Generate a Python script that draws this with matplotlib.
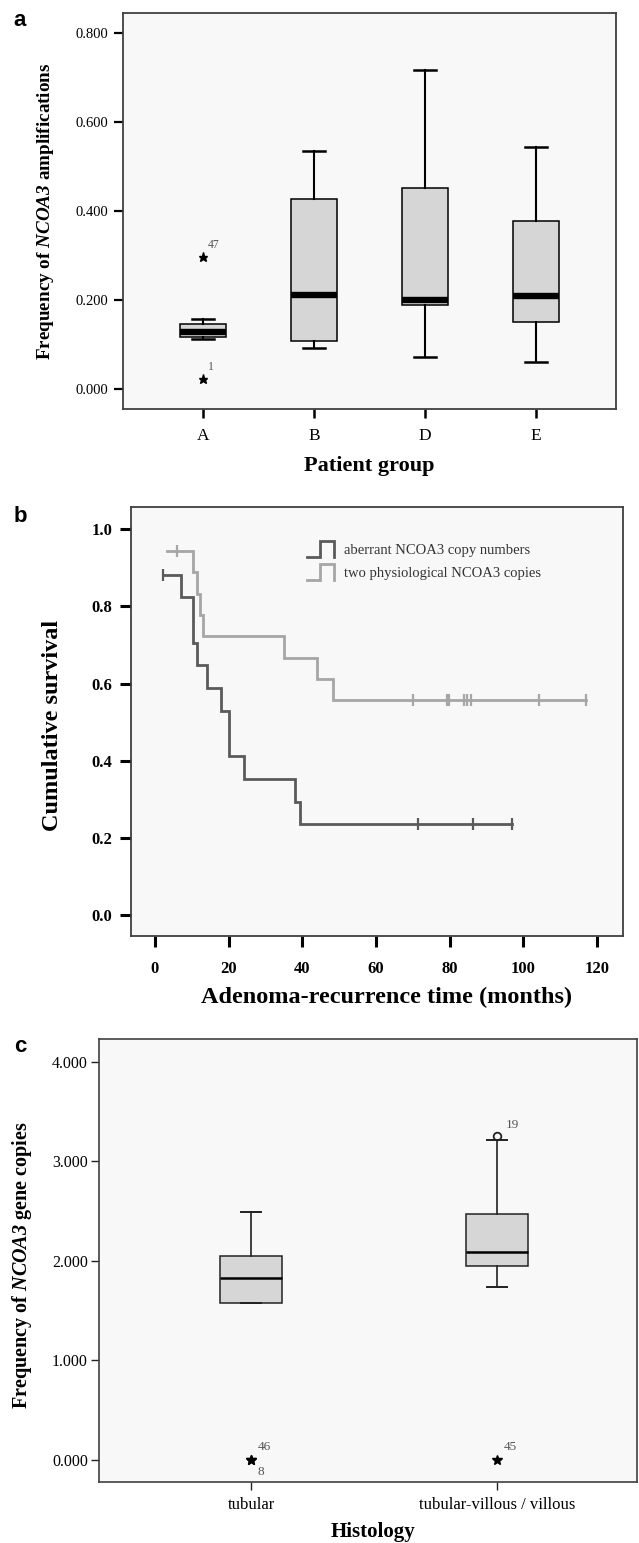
import matplotlib
matplotlib.use("Agg")
import matplotlib.pyplot as plt
from matplotlib.legend_handler import HandlerBase
from matplotlib.lines import Line2D

plt.rcParams.update({
    "font.family": ["Liberation Serif", "DejaVu Serif"],
    "mathtext.fontset": "custom",
    "mathtext.rm": "Liberation Serif",
    "mathtext.it": "Liberation Serif:italic",
    "mathtext.bf": "Liberation Serif:bold",
    "mathtext.bfit": "Liberation Serif:italic:bold",
})

# ---- panel a: NCOA3 amplification frequency by patient group ----
GROUPS = ["A", "B", "D", "E"]
A_WHISLO = [0.112, 0.092, 0.071, 0.061]
A_Q1 = [0.118, 0.109, 0.188, 0.151]
A_MED = [0.128, 0.211, 0.200, 0.209]
A_Q3 = [0.147, 0.428, 0.452, 0.378]
A_WHISHI = [0.158, 0.535, 0.718, 0.544]
A_EXT_GROUP = [0, 0]
A_EXT_VALUE = [0.297, 0.022]
A_EXT_ID = ["47", "1"]
A_YTICKS = [0.0, 0.2, 0.4, 0.6, 0.8]

# ---- panel b: Kaplan-Meier adenoma recurrence ----
ABER_T = [2.2, 7.0, 10.3, 11.3, 14.0, 17.9, 20.1, 24.2, 38.0, 39.3]
ABER_S = [0.882, 0.824, 0.706, 0.647, 0.588, 0.529, 0.412, 0.353, 0.294, 0.235]
ABER_END = 97.0
ABER_CENS = [2.2, 71.3, 86.2, 97.0]
PHYS_T = [3.2, 10.2, 11.3, 12.1, 12.9, 34.9, 44.0, 48.2]
PHYS_S = [0.944, 0.889, 0.833, 0.778, 0.722, 0.667, 0.611, 0.556]
PHYS_END = 117.0
PHYS_CENS = [5.9, 69.9, 79.3, 79.9, 84.0, 84.8, 85.9, 104.3, 117.0]
KM_LABELS = ["aberrant NCOA3 copy numbers", "two physiological NCOA3 copies"]
B_XTICKS = [0, 20, 40, 60, 80, 100, 120]
B_YTICKS = [0.0, 0.2, 0.4, 0.6, 0.8, 1.0]

# ---- panel c: NCOA3 gene copies by histology ----
HISTOLOGY = ["tubular", "tubular-villous / villous"]
C_WHISLO = [1.579, 1.739]
C_Q1 = [1.579, 1.946]
C_MED = [1.826, 2.094]
C_Q3 = [2.047, 2.468]
C_WHISHI = [2.492, 3.211]
C_EXT_GROUP = [0, 0, 1]
C_EXT_VALUE = [0.0, 0.0, 0.0]
C_EXT_ID = ["46", "8", "45"]
C_OUT_GROUP = [1]
C_OUT_VALUE = [3.251]
C_OUT_ID = ["19"]
C_YTICKS = [0.0, 1.0, 2.0, 3.0, 4.0]

FACE = "#f8f8f8"
BOXFILL = "#d6d6d6"
FRAME = "#404040"
NUMCOL = "#555555"
DARK = "#5a5a5a"
LIGHT = "#a6a6a6"


class StepIcon(HandlerBase):
    """Little step glyph used by SPSS survival legends."""

    def create_artists(self, legend, orig_handle, xdescent, ydescent,
                       width, height, fontsize, trans):
        x0, y0 = -xdescent, -ydescent
        xs = [x0, x0 + 0.5 * width, x0 + 0.5 * width, x0 + width, x0 + width]
        ys = [y0, y0, y0 + height, y0 + height, y0]
        ln = Line2D(xs, ys, color=orig_handle.get_color(),
                    lw=orig_handle.get_linewidth(), solid_joinstyle="miter")
        ln.set_transform(trans)
        return [ln]


def style_frame(ax, lw=1.3):
    ax.set_facecolor(FACE)
    for sp in ax.spines.values():
        sp.set_color(FRAME)
        sp.set_linewidth(lw)


def stats_list(lo, q1, med, q3, hi):
    return [
        {"whislo": a, "q1": b, "med": c, "q3": d, "whishi": e, "fliers": []}
        for a, b, c, d, e in zip(lo, q1, med, q3, hi)
    ]


fig = plt.figure(figsize=(6.39, 15.43), dpi=100, facecolor="white")

# ================= panel a =================
ax_a = fig.add_axes([0.1925, 0.7349, 0.7715, 0.2566])
style_frame(ax_a)
pos_a = list(range(1, len(GROUPS) + 1))
ax_a.bxp(
    stats_list(A_WHISLO, A_Q1, A_MED, A_Q3, A_WHISHI),
    positions=pos_a, widths=0.41, capwidths=0.2, patch_artist=True,
    showfliers=False,
    boxprops=dict(facecolor=BOXFILL, edgecolor="black", linewidth=1.1),
    medianprops=dict(color="black", linewidth=4.6, solid_capstyle="butt"),
    whiskerprops=dict(color="black", linewidth=1.5),
    capprops=dict(color="black", linewidth=1.8),
)
for g, v, lab in zip(A_EXT_GROUP, A_EXT_VALUE, A_EXT_ID):
    ax_a.plot(pos_a[g], v, marker="*", ms=6.5, color="black", ls="none")
    ax_a.annotate(lab, (pos_a[g], v), xytext=(3.5, 4.5), textcoords="offset points",
                  fontsize=8.5, color=NUMCOL, ha="left", va="bottom")
ax_a.set_xlim(0.279, 4.72)
ax_a.set_ylim(-0.045, 0.845)
ax_a.set_yticks(A_YTICKS)
ax_a.set_yticklabels([f"{v:.3f}" for v in A_YTICKS], fontsize=10.5)
ax_a.set_xticks(pos_a)
ax_a.set_xticklabels(GROUPS, fontsize=12.5)
ax_a.tick_params(axis="y", length=6.5, width=1.6, pad=4, color="black")
ax_a.tick_params(axis="x", length=6.5, width=1.8, pad=7, color="black")
ax_a.set_ylabel(r"Frequency of $\mathbfit{NCOA3}$ amplifications",
                fontsize=13.8, fontweight="bold")
ax_a.yaxis.set_label_coords(-0.158, 0.5)
ax_a.set_xlabel("Patient group", fontsize=16, fontweight="bold")
ax_a.xaxis.set_label_coords(0.499, -0.144)
ax_a.xaxis.label.set_va("center")
ax_a.yaxis.label.set_va("center")

# ================= panel b =================
ax_b = fig.add_axes([0.2045, 0.3936, 0.7709, 0.2776])
style_frame(ax_b)
km_handles = []
for t, s, end, cens, col, lab in [
    (ABER_T, ABER_S, ABER_END, ABER_CENS, DARK, KM_LABELS[0]),
    (PHYS_T, PHYS_S, PHYS_END, PHYS_CENS, LIGHT, KM_LABELS[1]),
]:
    xs = list(t) + [end]
    ys = list(s) + [s[-1]]
    (ln,) = ax_b.step(xs, ys, where="post", color=col, lw=2.0, label=lab,
                      solid_joinstyle="miter")
    km_handles.append(ln)
    cy = []
    for c in cens:
        val = s[0]
        for tt, ss in zip(t, s):
            if tt <= c:
                val = ss
        cy.append(val)
    ax_b.plot(cens, cy, ls="none", marker="|", ms=9, mew=1.6, color=col)

ax_b.set_xlim(-6.6, 127.1)
ax_b.set_ylim(-0.054, 1.057)
ax_b.set_xticks(B_XTICKS)
ax_b.set_xticklabels([str(v) for v in B_XTICKS], fontsize=12, fontweight="bold")
ax_b.set_yticks(B_YTICKS)
ax_b.set_yticklabels([f"{v:.1f}" for v in B_YTICKS], fontsize=12, fontweight="bold")
ax_b.tick_params(axis="y", length=8, width=2.2, pad=5, color="black")
ax_b.tick_params(axis="x", length=8, width=2.2, pad=10, color="black")
ax_b.set_ylabel("Cumulative survival", fontsize=17.5, fontweight="bold")
ax_b.yaxis.set_label_coords(-0.158, 0.49)
ax_b.set_xlabel("Adenoma-recurrence time (months)", fontsize=17.5, fontweight="bold")
ax_b.xaxis.set_label_coords(0.52, -0.145)
ax_b.xaxis.label.set_va("center")
ax_b.yaxis.label.set_va("center")
leg = ax_b.legend(
    handles=km_handles, loc="upper left", bbox_to_anchor=(0.357, 0.922),
    frameon=False, fontsize=10.5, borderpad=0, borderaxespad=0,
    handlelength=1.9, handleheight=1.35, handletextpad=0.7, labelspacing=0.45,
    handler_map={h: StepIcon() for h in km_handles},
)
for txt in leg.get_texts():
    txt.set_color("#333333")

# ================= panel c =================
ax_c = fig.add_axes([0.1549, 0.0395, 0.8420, 0.2869])
style_frame(ax_c, lw=1.2)
pos_c = list(range(1, len(HISTOLOGY) + 1))
ax_c.bxp(
    stats_list(C_WHISLO, C_Q1, C_MED, C_Q3, C_WHISHI),
    positions=pos_c, widths=0.25, capwidths=0.085, patch_artist=True,
    showfliers=False,
    boxprops=dict(facecolor=BOXFILL, edgecolor="#222222", linewidth=1.1),
    medianprops=dict(color="black", linewidth=1.8, solid_capstyle="butt"),
    whiskerprops=dict(color="#222222", linewidth=1.2),
    capprops=dict(color="#222222", linewidth=1.4),
)
seen = {}
for g, v, lab in zip(C_EXT_GROUP, C_EXT_VALUE, C_EXT_ID):
    key = (g, v)
    below = key in seen
    seen[key] = True
    ax_c.plot(pos_c[g], v, marker="*", ms=7, color="black", ls="none")
    off = (5, -4) if below else (5, 5)
    ax_c.annotate(lab, (pos_c[g], v), xytext=off, textcoords="offset points",
                  fontsize=9.5, color=NUMCOL, ha="left",
                  va="top" if below else "bottom")
for g, v, lab in zip(C_OUT_GROUP, C_OUT_VALUE, C_OUT_ID):
    ax_c.plot(pos_c[g], v, marker="o", ms=5.5, mfc="none", mec="#222222",
              mew=1.3, ls="none")
    ax_c.annotate(lab, (pos_c[g], v), xytext=(6, 4), textcoords="offset points",
                  fontsize=9.5, color=NUMCOL, ha="left", va="bottom")
ax_c.set_xlim(0.382, 2.569)
ax_c.set_ylim(-0.221, 4.225)
ax_c.set_yticks(C_YTICKS)
ax_c.set_yticklabels([f"{v:.3f}" for v in C_YTICKS], fontsize=11.5)
ax_c.set_xticks(pos_c)
ax_c.set_xticklabels(HISTOLOGY, fontsize=12)
ax_c.tick_params(axis="y", length=6, width=1.0, pad=2, color="#222222")
ax_c.tick_params(axis="x", length=5.5, width=1.0, pad=5, color="#222222")
ax_c.set_ylabel(r"Frequency of $\mathbfit{NCOA3}$ gene copies",
                fontsize=14.5, fontweight="bold")
ax_c.yaxis.set_label_coords(-0.143, 0.49)
ax_c.set_xlabel("Histology", fontsize=15, fontweight="bold")
ax_c.xaxis.set_label_coords(0.51, -0.112)
ax_c.xaxis.label.set_va("center")
ax_c.yaxis.label.set_va("center")

# panel letters
for letter, ypx in [("a", 21), ("b", 517), ("c", 1046)]:
    fig.text(20 / 639, 1 - ypx / 1543, letter, fontsize=16, fontweight="bold",
             family=["Liberation Sans", "DejaVu Sans"], ha="center", va="center")

fig.savefig("out.png", dpi=100, facecolor="white")
